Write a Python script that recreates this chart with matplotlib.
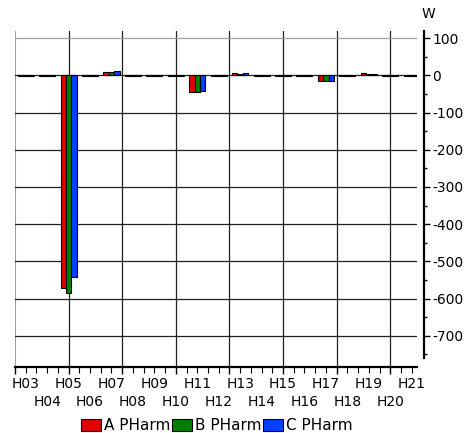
import numpy as np
import matplotlib
matplotlib.use("Agg")
import matplotlib.pyplot as plt
from matplotlib.patches import Patch

plt.rcParams['font.family'] = ['DejaVu Sans']
plt.rcParams['axes.unicode_minus'] = False

categories = ["H03", "H04", "H05", "H06", "H07", "H08", "H09", "H10", "H11", "H12",
              "H13", "H14", "H15", "H16", "H17", "H18", "H19", "H20", "H21"]
a_pharm = [-1, -2, -572, -1, 9, -1, -1, -1, -44, -1, 6, -1, -1, -2, -14, -1, 5, -1, -1]
b_pharm = [-1, -1, -586, -2, 9, -1, -2, -1, -46, -1, 4, -1, -1, -1, -14, -1, 3, -1, -1]
c_pharm = [-2, -1, -543, -1, 12, -1, -1, -1, -42, -1, 6, -1, -1, -1, -16, -1, 3, -1, -1]
series_names = ["A PHarm", "B PHarm", "C PHarm"]
colors = ["#e00000", "#008000", "#0040ff"]
y_ticks = [100, 0, -100, -200, -300, -400, -500, -600, -700]

fig = plt.figure(figsize=(4.66, 4.33), dpi=100)
ax = fig.add_axes([0.0322, 0.1531, 0.8627, 0.7753])

x = np.arange(len(categories))
w = 0.25
for j, (vals, col) in enumerate(zip([a_pharm, b_pharm, c_pharm], colors)):
    ax.bar(x + (j - 1) * w, vals, width=w, color=col, edgecolor="black",
           linewidth=0.8, zorder=3)

ax.set_xlim(-0.5, 18.25)
ax.set_ylim(-783, 119)

# spines
for s in ["top", "left"]:
    ax.spines[s].set_visible(False)
ax.spines["right"].set_position(("outward", 5))
ax.spines["right"].set_linewidth(1.6)
ax.spines["right"].set_bounds(-760, 119)
ax.spines["bottom"].set_linewidth(1.6)

# y axis on right
ax.yaxis.tick_right()
ax.set_yticks(y_ticks)
ax.set_yticklabels([str(v) for v in y_ticks])
ax.set_yticks(np.arange(-750, 101, 50), minor=True)
ax.tick_params(axis="y", which="major", length=4, width=1, pad=2, labelsize=10)
ax.tick_params(axis="y", which="minor", length=2.2, width=1)

# x ticks
major_x = [-0.5 + 2.5 * k for k in range(8)]
ax.set_xticks(major_x)
ax.set_xticklabels([])
ax.set_xticks(np.arange(-0.5, 18.3, 0.5), minor=True)
ax.tick_params(axis="x", which="major", length=5, width=1)
ax.tick_params(axis="x", which="minor", length=4, width=0.8)

# grid
ax.grid(True, which="major", color="#202020", linewidth=0.9, zorder=1)
for gl, v in zip(ax.get_ygridlines(), y_ticks):
    if v == 100:
        gl.set_color("#a0a0a0")
for gl, v in zip(ax.get_xgridlines(), major_x):
    if v == -0.5:
        gl.set_color("#a0a0a0")
        gl.set_linewidth(1.5)
ax.set_axisbelow(True)

# staggered category labels
for i, lab in enumerate(categories):
    off = -17.6 if i % 2 == 0 else -35.6
    ax.annotate(lab, xy=(i, 0), xycoords=("data", "axes fraction"),
                xytext=(0, off), textcoords="offset pixels",
                ha="center", va="center", fontsize=10)

fig.text(428 / 466, 1 - 13.5 / 433, "W", ha="center", va="center", fontsize=10)

handles = [Patch(facecolor=c, edgecolor="black", linewidth=0.8) for c in colors]
fig.legend(handles, series_names, loc="center", bbox_to_anchor=(217 / 466, 1 - 425.5 / 433),
           ncol=3, frameon=False, fontsize=11, handlelength=1.3, handleheight=0.85,
           handletextpad=0.2, columnspacing=0.1, borderpad=0, borderaxespad=0)

fig.savefig("out.png", dpi=100)
